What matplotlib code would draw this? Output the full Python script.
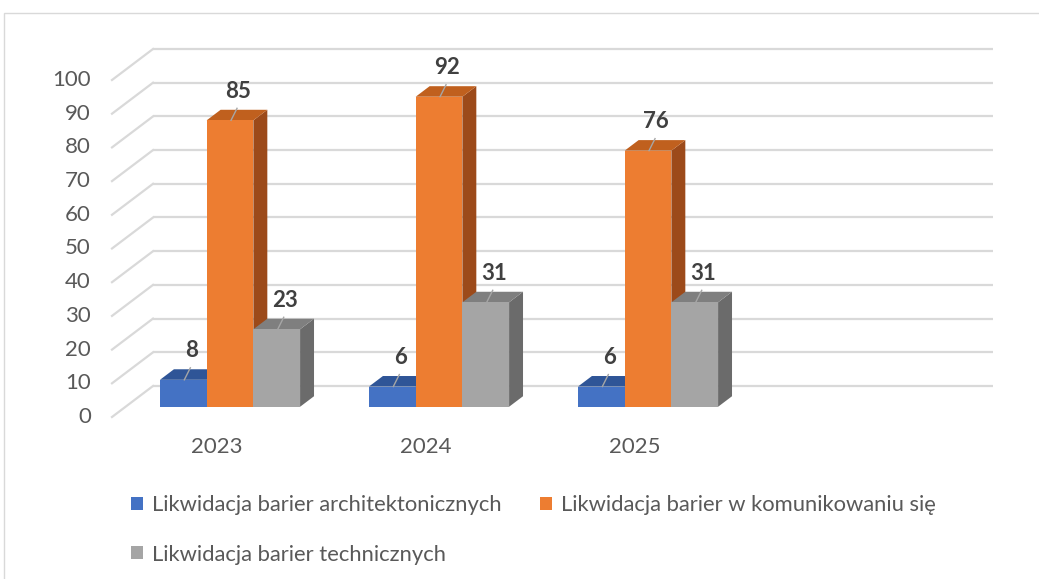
import numpy as np
import matplotlib.pyplot as plt
from matplotlib.patches import Polygon, Patch, Rectangle

plt.rcParams['font.family'] = ['Lato', 'DejaVu Sans']

# data
years = ['2023', '2024', '2025', '']
series = ['Likwidacja barier architektonicznych',
          'Likwidacja barier w komunikowaniu się',
          'Likwidacja barier technicznych']
architektoniczne = [8, 6, 6]
komunikowanie = [85, 92, 76]
techniczne = [23, 31, 31]
values = [architektoniczne, komunikowanie, techniczne]
y_ticks = list(range(0, 101, 10))

front_colors = ['#4472C4', '#ED7D31', '#A5A5A5']
top_colors = ['#2F5597', '#C0601E', '#7F7F7F']
side_colors = ['#264478', '#9C4A1A', '#6B6B6B']

# pixel geometry of the pseudo-3D box
W, H = 1039, 579
px_x = 209.0          # pixels per category
px_y = 3.37           # pixels per value unit
x0_px, y0_px = 112, 417
Dx, Dy = 41 / px_x, 31 / px_y     # full depth of the floor
f1, f2 = 0.33, 0.67               # bar front / back depth fraction
w = 46.7 / px_x                   # bar width

fig = plt.figure(figsize=(W / 100, H / 100), dpi=100)
ax = fig.add_axes([0, 0, 1, 1])
ax.set_xlim(-x0_px / px_x, (W - x0_px) / px_x)
ax.set_ylim(-(H - y0_px) / px_y, y0_px / px_y)
ax.axis('off')

# chart border
fig.patches.append(Rectangle((4 / W, -0.1), 1.2, 1 - 13 / H + 0.1,
                             transform=fig.transFigure, fill=False,
                             edgecolor='#d9d9d9', lw=1))

n_cat = len(years)
grid_c = '#d9d9d9'
for v in y_ticks:
    ax.plot([Dx, n_cat + Dx + 4 / px_x], [v + Dy, v + Dy], color=grid_c, lw=1.6,
            zorder=1, solid_capstyle='butt')
    ax.plot([0, Dx], [v, v + Dy], color=grid_c, lw=1.6, zorder=1)
    ax.text(-21 / px_x, v, str(v), ha='right', va='center', fontsize=16,
            color='#595959')

for i, yr in enumerate(years):
    ax.text(i + 0.5, -30 / px_y, yr, ha='center', va='center', fontsize=16,
            color='#595959')

sx, sy = f1 * Dx, f1 * Dy
bdx, bdy = (f2 - f1) * Dx, (f2 - f1) * Dy
z = 2
for i in range(len(architektoniczne)):
    for j in range(len(series)):
        v = values[j][i]
        l = i + 0.5 + (j - 1.5) * w + sx
        ax.add_patch(Polygon([(l + w, sy), (l + w + bdx, sy + bdy),
                              (l + w + bdx, sy + v + bdy), (l + w, sy + v)],
                             closed=True, facecolor=side_colors[j],
                             edgecolor='none', zorder=z))
        ax.add_patch(Polygon([(l, sy + v), (l + w, sy + v),
                              (l + w + bdx, sy + v + bdy), (l + bdx, sy + v + bdy)],
                             closed=True, facecolor=top_colors[j],
                             edgecolor='none', zorder=z))
        ax.bar(l, v, width=w, bottom=sy, align='edge', color=front_colors[j],
               zorder=z + 0.5)
        cx = l + w / 2
        ax.plot([cx + 1 / px_x, cx + 7 / px_x], [sy + v, sy + v + 12 / px_y],
                color='#a6a6a6', lw=1, zorder=50)
        ax.text(cx + 8 / px_x, sy + v + 29 / px_y, str(v), ha='center',
                va='center', fontsize=16, fontweight='bold', color='#404040',
                zorder=60)
        z += 1

handles = [Patch(facecolor=c) for c in front_colors]
order = [0, 2, 1]
fig.legend([handles[k] for k in order], [series[k] for k in order],
           loc='upper left', bbox_to_anchor=(131 / W, 1 - 495 / H), ncol=2,
           frameon=False, fontsize=15.8, labelcolor='#595959',
           handlelength=0.55, handleheight=0.55, handletextpad=0.4,
           columnspacing=1.75, labelspacing=1.35, borderpad=0, borderaxespad=0)

fig.savefig('out.png', dpi=100)
